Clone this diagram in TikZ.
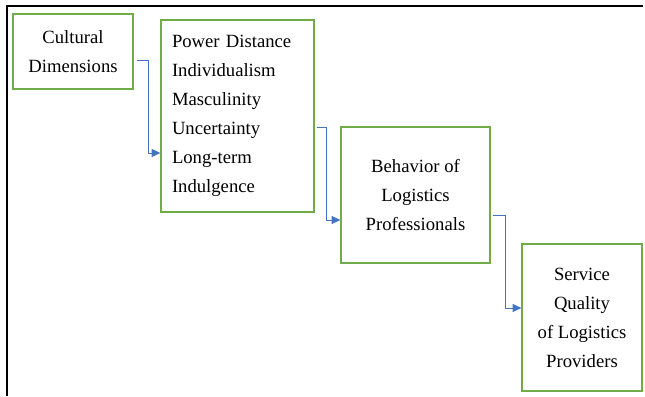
\documentclass[tikz,border=0pt]{standalone}
\usepackage{fontspec}
\setmainfont{Liberation Serif}
\usetikzlibrary{arrows.meta}
\definecolor{boxgreen}{HTML}{70AD47}
\definecolor{flowblue}{HTML}{4472C4}
\tikzset{
  box/.style={draw=boxgreen, line width=1pt, inner sep=0pt, align=center,
    font=\fontsize{14pt}{21.75pt}\selectfont},
  flow/.style={draw=flowblue, line width=0.6pt, -{Triangle[length=6.5pt,width=6pt]}}
}
\begin{document}
\begin{tikzpicture}[x=0.75pt,y=-0.75pt]
        \useasboundingbox (0,0) rectangle (645,396);
        % Marco
        \draw[line width=1.1pt] (7,396) -- (7,6) -- (643,6);

        % Cajas
        \node[box, minimum width=120*0.75pt, minimum height=75*0.75pt] (cultural) at (73,51.5) {Cultural\\Dimensions};
        \node[box, minimum height=192*0.75pt, text width=131*0.75pt, inner xsep=11*0.75pt, align=left] (dims) at (237.5,116)
          {Power Distance\\Individualism\\Masculinity\\Uncertainty\\Long-term\\Indulgence};
        \node[box, minimum width=149*0.75pt, minimum height=136*0.75pt] (behavior) at (415.5,195) {Behavior of\\Logistics\\Professionals};
        \node[box, minimum width=120*0.75pt, minimum height=147*0.75pt] (quality) at (582,317.5) {Service\\Quality\\of Logistics\\Providers};

        % Flechas
        \draw[flow] (cultural.east) ++(3,8.5) -- ++(12,0) |- (dims.west |- 0,153);
        \draw[flow] (dims.east) ++(2,11) -- ++(10,0) |- (behavior.west |- 0,220);
        \draw[flow] (behavior.east) ++(2,20) -- ++(13,0) |- (quality.west |- 0,308);
    \end{tikzpicture}
\end{document}
